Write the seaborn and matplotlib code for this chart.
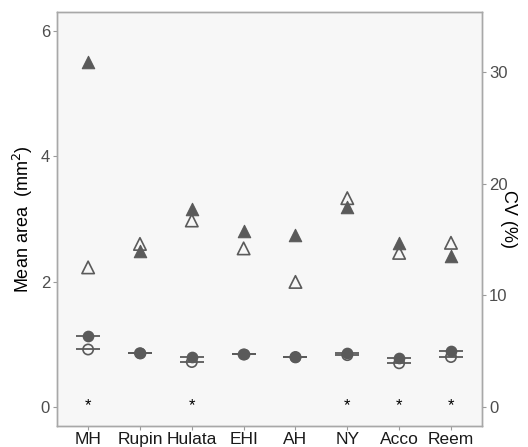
import pandas as pd
import seaborn as sns
import matplotlib.pyplot as plt

sites = ["MH", "Rupin", "Hulata", "EHI", "AH", "NY", "Acco", "Reem"]
area_filled = [1.13, 0.86, 0.80, 0.84, 0.80, 0.86, 0.78, 0.89]
area_open = [0.92, 0.86, 0.72, 0.84, 0.80, 0.83, 0.70, 0.80]
cv_filled = [30.9, 14.0, 17.7, 15.8, 15.4, 17.9, 14.7, 13.5]
cv_open = [12.5, 14.6, 16.7, 14.2, 11.2, 18.7, 13.8, 14.7]
signif = ["*", "", "*", "", "", "*", "*", "*"]

df = pd.DataFrame({"site": sites, "area_f": area_filled, "area_o": area_open,
                   "cv_f": cv_filled, "cv_o": cv_open, "sig": signif})

sns.set_style("ticks")
plt.rcParams["font.family"] = ["Liberation Sans", "DejaVu Sans"]

grey = "#5a5a5a"
fig = plt.figure(figsize=(5.28, 4.47), dpi=100)
ax = fig.add_axes([0.108, 0.047, 0.805, 0.926])
ax.set_facecolor("#f7f7f7")
ax2 = ax.twinx()

# mean area: circles with short horizontal bars
sns.scatterplot(data=df, x="site", y="area_f", ax=ax, marker="_", s=300,
                color=grey, linewidth=1.3, zorder=3)
sns.scatterplot(data=df, x="site", y="area_o", ax=ax, marker="_", s=300,
                color=grey, linewidth=1.3, zorder=3)
sns.scatterplot(data=df, x="site", y="area_f", ax=ax, marker="o", s=55,
                color=grey, edgecolor=grey, linewidth=1, zorder=4)
sns.scatterplot(data=df, x="site", y="area_o", ax=ax, marker="o", s=55,
                facecolor="none", edgecolor=grey, linewidth=1.2, zorder=4)

# CV: triangles
sns.scatterplot(data=df, x="site", y="cv_f", ax=ax2, marker="^", s=80,
                color=grey, edgecolor=grey, linewidth=0.8, zorder=4)
sns.scatterplot(data=df, x="site", y="cv_o", ax=ax2, marker="^", s=80,
                facecolor="none", edgecolor=grey, linewidth=1.2, zorder=4)

for i, s in enumerate(signif):
    if s:
        ax.text(i, 0.03, s, ha="center", va="center", fontsize=12, color="black")

ax.set_xlim(-0.6, 7.6)
ax.set_ylim(-0.30, 6.30)
ax2.set_ylim(-1.70, 35.36)
ax.set_yticks([0, 2, 4, 6])
ax2.set_yticks([0, 10, 20, 30])

ax.set_xlabel("")
ax.set_ylabel("Mean area  (mm$^2$)", fontsize=13, color="black", labelpad=4)
ax2.set_ylabel("CV (%)", fontsize=13, color="black", rotation=270, labelpad=7)

for a in (ax, ax2):
    a.tick_params(colors="#9a9a9a", labelcolor="#4d4d4d", labelsize=12,
                  length=3, width=0.8, pad=2)
    for sp in a.spines.values():
        sp.set_visible(True)
        sp.set_color("#a8a8a8")
        sp.set_linewidth(1)
ax.tick_params(axis="x", labelcolor="#1a1a1a", labelsize=12.5, pad=1)

fig.savefig("out.png", dpi=100)
